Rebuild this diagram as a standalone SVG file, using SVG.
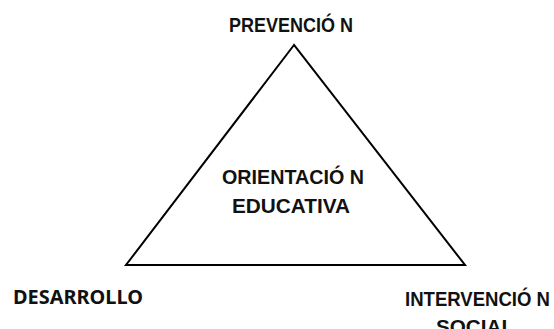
<svg xmlns="http://www.w3.org/2000/svg" width="554" height="329" viewBox="0 0 554 329">
<style>
.lbl{font-family:"Liberation Sans",Arial,sans-serif;font-weight:bold;font-size:20px;fill:#111}
.lbl2{font-family:"Noto Sans","Open Sans",sans-serif;font-weight:bold;font-size:19.5px;fill:#111}
.tri{fill:#fff;stroke:#000;stroke-width:2;stroke-linejoin:miter}
</style>
<rect width="554" height="329" fill="#fff"/>
<g id="triangle">
<polygon class="tri" points="294,45 126,265 465,265"/>
</g>
<g id="prevencion">
<text class="lbl" x="229" y="32" textLength="124" lengthAdjust="spacingAndGlyphs">PREVENCIÓ N</text>
</g>
<g id="orientacion">
<text class="lbl" x="222" y="184" textLength="142" lengthAdjust="spacingAndGlyphs">ORIENTACIÓ N</text>
<text class="lbl" x="232" y="213" textLength="118" lengthAdjust="spacingAndGlyphs">EDUCATIVA</text>
</g>
<g id="desarrollo">
<text class="lbl2" x="13" y="304" textLength="130" lengthAdjust="spacingAndGlyphs">DESARROLLO</text>
</g>
<g id="intervencion">
<text class="lbl" x="405" y="306" textLength="145" lengthAdjust="spacingAndGlyphs">INTERVENCIÓ N</text>
<text class="lbl" x="436" y="334" textLength="78" lengthAdjust="spacingAndGlyphs">SOCIAL</text>
</g>
</svg>
